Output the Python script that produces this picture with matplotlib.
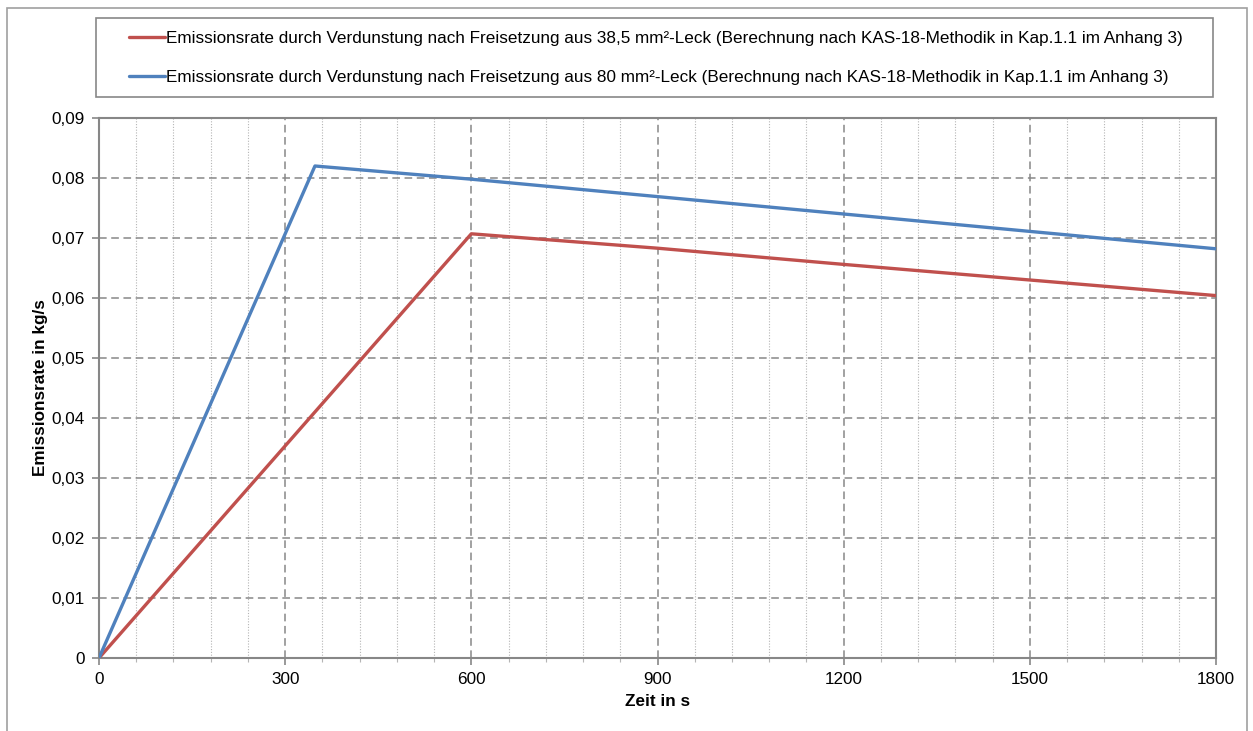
# Emissionsrate durch Verdunstung - Liniendiagramm

import matplotlib
matplotlib.use("Agg")
import matplotlib.pyplot as plt
from matplotlib.ticker import MultipleLocator, FuncFormatter
from matplotlib.patches import Rectangle

plt.rcParams['font.family'] = ['Liberation Sans', 'DejaVu Sans']

# Daten
zeit_38 = [0, 600, 900, 1200, 1500, 1800]
rate_38 = [0, 0.0707, 0.0683, 0.0656, 0.0630, 0.0604]
zeit_80 = [0, 348, 600, 900, 1200, 1500, 1800]
rate_80 = [0, 0.0820, 0.0798, 0.0769, 0.0740, 0.0711, 0.0682]

label_38 = ("Emissionsrate durch Verdunstung nach Freisetzung aus 38,5 mm²-Leck "
            "(Berechnung nach KAS-18-Methodik in Kap.1.1 im Anhang 3)")
label_80 = ("Emissionsrate durch Verdunstung nach Freisetzung aus 80 mm²-Leck "
            "(Berechnung nach KAS-18-Methodik in Kap.1.1 im Anhang 3)")

W, H = 1253, 731
fig = plt.figure(figsize=(W / 100, H / 100), dpi=100)

# Achse in Pixelkoordinaten
left, right, top, bottom = 99, 1216, 118, 658
ax = fig.add_axes([left / W, 1 - bottom / H, (right - left) / W, (bottom - top) / H])

grau = '#878787'
fs = 12.3
l1, = ax.plot(zeit_38, rate_38, color='#C0504D', lw=2.4, solid_capstyle='round', zorder=3)
l2, = ax.plot(zeit_80, rate_80, color='#4F81BD', lw=2.4, solid_capstyle='round', zorder=3)

ax.set_xlim(0, 1800)
ax.set_ylim(0, 0.09)
ax.xaxis.set_major_locator(MultipleLocator(300))
ax.xaxis.set_minor_locator(MultipleLocator(60))
ax.yaxis.set_major_locator(MultipleLocator(0.01))
ax.yaxis.set_major_formatter(FuncFormatter(
    lambda v, p: '0' if abs(v) < 1e-9 else ('%.2f' % v).replace('.', ',')))

ax.grid(which='major', axis='both', color=grau, linestyle=(0, (5, 3)), lw=1.1)
ax.grid(which='minor', axis='x', color='#b5b5b5', linestyle=(0, (1, 1.5)), lw=0.8)
ax.set_axisbelow(True)

for s in ax.spines.values():
    s.set_color(grau)
    s.set_linewidth(1.5)

ax.tick_params(which='major', direction='out', length=5, width=1.2, color=grau,
               labelsize=fs, pad=5)
ax.tick_params(which='minor', direction='out', length=3, width=0.8, color='#b5b5b5')

ax.set_xlabel('Zeit in s', fontsize=fs, fontweight='bold', labelpad=5)
ax.set_ylabel('Emissionsrate in kg/s', fontsize=fs, fontweight='bold', labelpad=3)

# Rahmen um das ganze Diagramm
fig.patches.append(Rectangle((7 / W, -0.05), (1247 - 7) / W, 1.05 - 8 / H,
                             transform=fig.transFigure, fill=False,
                             edgecolor='#a0a0a0', lw=1.2))

# Legendenrahmen
fig.patches.append(Rectangle((96 / W, 1 - 97 / H), (1213 - 96) / W, (97 - 18) / H,
                             transform=fig.transFigure, fill=False,
                             edgecolor=grau, lw=1.2))

fig.legend([l1, l2], [label_38, label_80], loc='center',
           bbox_to_anchor=(656 / W, 1 - 58 / H), frameon=False, fontsize=fs,
           handlelength=2.1, handletextpad=0.05, labelspacing=1.4)

plt.savefig('out.png', dpi=100)
